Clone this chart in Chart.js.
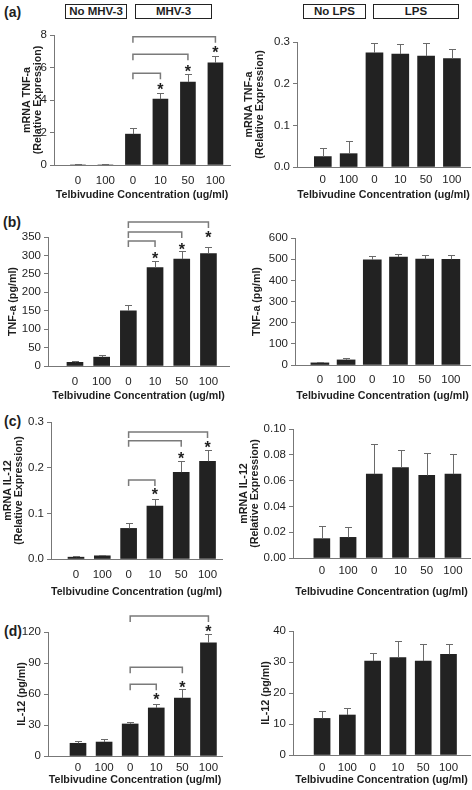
<!DOCTYPE html>
<html>
<head>
<meta charset="utf-8">
<title>Telbivudine cytokine panels</title>
<script src="https://cdn.jsdelivr.net/npm/chart.js@4.4.1/dist/chart.umd.min.js"></script>
<style>
    body {
        margin: 0;
        width: 472px;
        height: 790px;
        position: relative;
        overflow: hidden;
        background: #fff;
        font-family: "Liberation Sans", Arial, sans-serif;
        color: #1e1e1e;
    }

    .panel {
        position: absolute;
    }

    .tag {
        position: absolute;
        font-size: 14px;
        font-weight: bold;
        line-height: 16px;
    }

    .group {
        position: absolute;
        box-sizing: border-box;
        height: 15px;
        border: 1.5px solid #222;
        font-size: 11.5px;
        font-weight: bold;
        line-height: 12px;
        text-align: center;
    }
</style>
</head>
<body>

<div class="tag" style="left:4px;top:4px">(a)</div>
<div class="tag" style="left:3px;top:214px">(b)</div>
<div class="tag" style="left:4px;top:413px">(c)</div>
<div class="tag" style="left:4px;top:623px">(d)</div>

<div class="group" style="left:65px;top:4px;width:62px">No MHV-3</div>
<div class="group" style="left:135px;top:4px;width:77px">MHV-3</div>
<div class="group" style="left:303px;top:4px;width:63px">No LPS</div>
<div class="group" style="left:373px;top:4px;width:86px">LPS</div>

<script>
/* ==========================================
   DATA
========================================== */

const doses = ["0", "100", "0", "10", "50", "100"];
const xTitle = "Telbivudine Concentration (ug/ml)";

// every bracket starts at the infected/untreated bar
const controlIndex = 2;
const compareTo = [3, 4, 5];

// (a) TNF-a mRNA
const tnfMrnaMhv = [0, 0, 1.9, 4.05, 5.1, 6.28];
const tnfMrnaMhvErr = [0.05, 0.05, 0.4, 0.37, 0.48, 0.45];
const tnfMrnaMhvTicks = [0, 2, 4, 6, 8];
const tnfMrnaMhvBrackets = [5.64, 6.81, 7.9];
const tnfMrnaMhvStars = [4.88, 5.97, 7.14];

const tnfMrnaLps = [0.025, 0.032, 0.274, 0.271, 0.266, 0.26];
const tnfMrnaLpsErr = [0.021, 0.03, 0.024, 0.023, 0.032, 0.024];
const tnfMrnaLpsTicks = [0, 0.1, 0.2, 0.3];

// (b) TNF-a protein
const tnfProtMhv = [10, 24, 150, 267, 290, 305];
const tnfProtMhvErr = [3, 6, 16, 17, 21, 18];
const tnfProtMhvTicks = [0, 50, 100, 150, 200, 250, 300, 350];
const tnfProtMhvBrackets = [339, 363.5, 390.6];
const tnfProtMhvStars = [302, 325, 359];

const tnfProtLps = [10, 24, 497, 510, 500, 499];
const tnfProtLpsErr = [3, 8, 18, 16, 20, 20];
const tnfProtLpsTicks = [0, 100, 200, 300, 400, 500, 600];

// (c) IL-12 mRNA
const il12MrnaMhv = [0.004, 0.007, 0.067, 0.116, 0.19, 0.214];
const il12MrnaMhvErr = [0.0015, 0.0015, 0.011, 0.015, 0.025, 0.024];
const il12MrnaMhvTicks = [0, 0.1, 0.2, 0.3];
const il12MrnaMhvBrackets = [0.173, 0.259, 0.278];
const il12MrnaMhvStars = [0.148, 0.227, 0.252];

const il12MrnaLps = [0.015, 0.016, 0.065, 0.07, 0.064, 0.065];
const il12MrnaLpsErr = [0.0095, 0.008, 0.023, 0.0135, 0.0175, 0.016];
const il12MrnaLpsTicks = [0, 0.02, 0.04, 0.06, 0.08, 0.1];

// (d) IL-12 protein
const il12ProtMhv = [12.3, 13.5, 31, 46.5, 56, 109.5];
const il12ProtMhvErr = [2.5, 2.5, 2.2, 4, 9, 8.7];
const il12ProtMhvTicks = [0, 30, 60, 90, 120];
const il12ProtMhvBrackets = [69.4, 86, 135.5];
const il12ProtMhvStars = [58, 70, 124];

const il12ProtLps = [11.8, 12.9, 30.3, 31.4, 30.3, 32.5];
const il12ProtLpsErr = [2.4, 2.4, 2.5, 5.4, 5.4, 3.2];
const il12ProtLpsTicks = [0, 10, 20, 30, 40];

/* ==========================================
   LAYOUT
========================================== */

const INK = "#1e1e1e";
const AXIS = "#777";
const FONT = "'Liberation Sans', Arial, sans-serif";

const COL_W = 236;
const ROWS = [[0, 204], [200, 204], [398, 202], [596, 194]];

// area = [left, top, right, bottom] of the plot in page pixels
const panels = [
    { col: 0, row: 0, values: tnfMrnaMhv, errors: tnfMrnaMhvErr, ticks: tnfMrnaMhvTicks, decimals: 0,
      yTitle: ["mRNA TNF-a", "(Relative Expression)"], brackets: tnfMrnaMhvBrackets, stars: tnfMrnaMhvStars,
      area: [54, 35, 230, 165], xRange: [-0.87, 5.53], barWidth: 15, yTitleX: 27, tickY: 180.5, xTitleY: 195 },
    { col: 1, row: 0, values: tnfMrnaLps, errors: tnfMrnaLpsErr, ticks: tnfMrnaLpsTicks, decimals: 1,
      yTitle: ["mRNA TNF-a", "(Relative Expression)"],
      area: [297, 42, 470, 167], xRange: [-1.0, 5.7], barWidth: 17, yTitleX: 249, tickY: 180, xTitleY: 195 },

    { col: 0, row: 1, values: tnfProtMhv, errors: tnfProtMhvErr, ticks: tnfProtMhvTicks, decimals: 0,
      yTitle: "TNF-a (pg/ml)", brackets: tnfProtMhvBrackets, stars: tnfProtMhvStars,
      area: [48, 237, 229, 366], xRange: [-1.01, 5.77], barWidth: 16, yTitleX: 13, tickY: 382, xTitleY: 396 },
    { col: 1, row: 1, values: tnfProtLps, errors: tnfProtLpsErr, ticks: tnfProtLpsTicks, decimals: 0,
      yTitle: "TNF-a (pg/ml)",
      area: [295, 238, 470, 365], xRange: [-0.95, 5.73], barWidth: 18, yTitleX: 257, tickY: 380, xTitleY: 396 },

    { col: 0, row: 2, values: il12MrnaMhv, errors: il12MrnaMhvErr, ticks: il12MrnaMhvTicks, decimals: 1,
      yTitle: ["mRNA IL-12", "(Relative Expression)"], brackets: il12MrnaMhvBrackets, stars: il12MrnaMhvStars,
      area: [51, 422, 222, 559], xRange: [-0.95, 5.55], barWidth: 16, yTitleX: 8, tickY: 575, xTitleY: 592 },
    { col: 1, row: 2, values: il12MrnaLps, errors: il12MrnaLpsErr, ticks: il12MrnaLpsTicks, decimals: 2,
      yTitle: ["mRNA IL-12", "(Relative Expression)"],
      area: [293, 429, 470, 558], xRange: [-1.1, 5.65], barWidth: 16, yTitleX: 244, tickY: 571, xTitleY: 592 },

    { col: 0, row: 3, values: il12ProtMhv, errors: il12ProtMhvErr, ticks: il12ProtMhvTicks, decimals: 0,
      yTitle: "IL-12 (pg/ml)", brackets: il12ProtMhvBrackets, stars: il12ProtMhvStars,
      area: [48, 632, 222, 756], xRange: [-1.15, 5.52], barWidth: 16, yTitleX: 22, tickY: 768, xTitleY: 780 },
    { col: 1, row: 3, values: il12ProtLps, errors: il12ProtLpsErr, ticks: il12ProtLpsTicks, decimals: 0,
      yTitle: "IL-12 (pg/ml)",
      area: [293, 631, 470, 755], xRange: [-1.15, 5.85], barWidth: 16, yTitleX: 266, tickY: 768, xTitleY: 780 }
];

/* ==========================================
   ERROR BARS, BRACKETS, ASTERISKS
========================================== */

const marksPlugin = {
    id: "marks",

    afterDatasetsDraw(chart) {
        const p = chart.options.plugins.marks;
        const ctx = chart.ctx;
        const y = chart.scales.y;
        const xs = chart.getDatasetMeta(0).data.map(bar => bar.x);

        ctx.save();

        // error bars (upper half only, as in the figure)
        ctx.strokeStyle = "#6a6a6a";
        ctx.lineWidth = 1;
        p.values.forEach((v, i) => {
            const x = Math.round(xs[i]) + 0.5;
            const y0 = y.getPixelForValue(v);
            const y1 = Math.round(y.getPixelForValue(v + p.errors[i])) + 0.5;
            ctx.beginPath();
            ctx.moveTo(x, y0);
            ctx.lineTo(x, y1);
            ctx.moveTo(x - 3.5, y1);
            ctx.lineTo(x + 3.5, y1);
            ctx.stroke();
        });

        if (p.brackets) {
            ctx.strokeStyle = "#7a7a7a";
            ctx.lineWidth = 1.5;
            p.brackets.forEach((level, k) => {
                const x0 = xs[controlIndex];
                const x1 = xs[compareTo[k]];
                const yy = y.getPixelForValue(level);
                ctx.beginPath();
                ctx.moveTo(x0, yy + 6);
                ctx.lineTo(x0, yy);
                ctx.lineTo(x1, yy);
                ctx.lineTo(x1, yy + 6);
                ctx.stroke();
            });
        }

        if (p.stars) {
            ctx.fillStyle = INK;
            ctx.font = "bold 16px " + FONT;
            ctx.textAlign = "center";
            ctx.textBaseline = "alphabetic";
            p.stars.forEach((level, k) => {
                ctx.fillText("*", xs[compareTo[k]], y.getPixelForValue(level) + 9);
            });
        }

        ctx.restore();
    }
};

/* ==========================================
   PANELS
========================================== */

function buildPanel(cfg) {
    const box = { left: cfg.col * COL_W, top: ROWS[cfg.row][0], width: COL_W, height: ROWS[cfg.row][1] };
    const [aLeft, aTop, aRight, aBottom] = cfg.area;

    const yTitleLH = 11;
    const xTitleLH = 12;
    const tickLH = 12;

    const yWidth = aLeft - (cfg.yTitleX - yTitleLH / 2);
    const xHeight = cfg.xTitleY + xTitleLH / 2 - aBottom;

    const holder = document.createElement("div");
    holder.className = "panel";
    holder.style.left = box.left + "px";
    holder.style.top = box.top + "px";

    const canvas = document.createElement("canvas");
    canvas.width = box.width;
    canvas.height = box.height;
    holder.appendChild(canvas);
    document.body.appendChild(holder);

    new Chart(canvas, {
        type: "bar",

        data: {
            datasets: [{
                data: cfg.values.map((v, i) => ({ x: i, y: v })),
                backgroundColor: "#222",
                borderWidth: 0,
                barThickness: cfg.barWidth
            }]
        },

        options: {
            responsive: false,
            animation: false,
            events: [],

            layout: {
                padding: {
                    left: cfg.yTitleX - yTitleLH / 2 - box.left,
                    top: aTop - box.top,
                    right: box.left + box.width - aRight,
                    bottom: box.top + box.height - aBottom - xHeight
                }
            },

            plugins: {
                legend: { display: false },
                tooltip: { enabled: false },
                marks: cfg
            },

            scales: {
                x: {
                    type: "linear",
                    min: cfg.xRange[0],
                    max: cfg.xRange[1],
                    offset: false,
                    afterBuildTicks: scale => {
                        scale.ticks = doses.map((d, i) => ({ value: i }));
                    },
                    afterFit: scale => {
                        scale.height = xHeight;
                    },
                    ticks: {
                        autoSkip: false,
                        maxRotation: 0,
                        padding: cfg.tickY - aBottom - tickLH / 2,
                        color: INK,
                        font: { family: FONT, size: 11.5, lineHeight: tickLH + "px" },
                        callback: value => doses[value]
                    },
                    grid: { display: false, drawTicks: false },
                    border: { display: true, color: AXIS, width: 1 },
                    title: {
                        display: true,
                        text: xTitle,
                        color: INK,
                        padding: 0,
                        font: { family: FONT, size: 10.7, weight: "bold", lineHeight: xTitleLH + "px" }
                    }
                },

                y: {
                    min: 0,
                    max: cfg.ticks[cfg.ticks.length - 1],
                    afterBuildTicks: scale => {
                        scale.ticks = cfg.ticks.map(v => ({ value: v }));
                    },
                    afterFit: scale => {
                        scale.width = yWidth;
                    },
                    ticks: {
                        padding: 3,
                        color: INK,
                        font: { family: FONT, size: 11.5 },
                        callback: value => value.toFixed(cfg.decimals)
                    },
                    grid: {
                        display: true,
                        drawOnChartArea: false,
                        drawTicks: true,
                        tickLength: 4,
                        color: AXIS
                    },
                    border: { display: true, color: AXIS, width: 1 },
                    title: {
                        display: true,
                        text: cfg.yTitle,
                        color: INK,
                        padding: 0,
                        font: { family: FONT, size: 10.7, weight: "bold", lineHeight: yTitleLH + "px" }
                    }
                }
            }
        },

        plugins: [marksPlugin]
    });
}

panels.forEach(buildPanel);
</script>
</body>
</html>
